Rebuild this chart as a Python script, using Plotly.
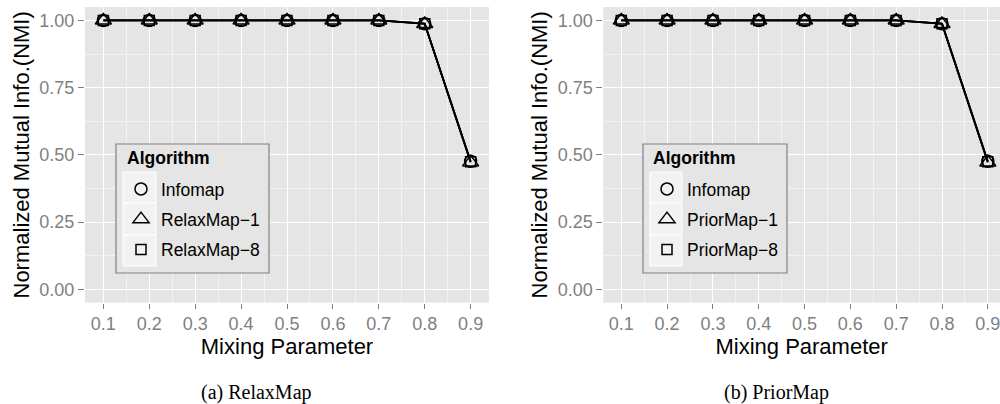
import plotly.graph_objects as go

# Mixing parameter values (x axis)
mixing = [0.1, 0.2, 0.3, 0.4, 0.5, 0.6, 0.7, 0.8, 0.9]

# NMI per algorithm, panel (a)
infomap_a = [1.0, 1.0, 1.0, 1.0, 1.0, 1.0, 1.0, 0.988, 0.476]
relaxmap1 = [1.0, 1.0, 1.0, 1.0, 1.0, 1.0, 1.0, 0.987, 0.472]
relaxmap8 = [1.0, 1.0, 1.0, 1.0, 1.0, 1.0, 1.0, 0.988, 0.474]

# NMI per algorithm, panel (b)
infomap_b = [1.0, 1.0, 1.0, 1.0, 1.0, 1.0, 1.0, 0.988, 0.476]
priormap1 = [1.0, 1.0, 1.0, 1.0, 1.0, 1.0, 1.0, 0.987, 0.472]
priormap8 = [1.0, 1.0, 1.0, 1.0, 1.0, 1.0, 1.0, 0.988, 0.474]

# (legend name, values, marker symbol, marker size)
panel_a = [("Infomap", infomap_a, "circle-open", 12),
           ("RelaxMap\u22121", relaxmap1, "triangle-up-open", 14),
           ("RelaxMap\u22128", relaxmap8, "square-open", 10)]
panel_b = [("Infomap", infomap_b, "circle-open", 12),
           ("PriorMap\u22121", priormap1, "triangle-up-open", 14),
           ("PriorMap\u22128", priormap8, "square-open", 10)]

W, H = 1000, 404
SANS = "Liberation Sans, Arial, Helvetica, sans-serif"
SERIF = "Liberation Serif, Times New Roman, serif"
GREY = "#7f7f7f"


def px(x):
    return x / W


def py(y):
    return 1 - y / H


fig = go.Figure()

for axis_idx, (series, legend_id) in enumerate([(panel_a, "legend"), (panel_b, "legend2")], start=1):
    xa = "x" if axis_idx == 1 else "x2"
    ya = "y" if axis_idx == 1 else "y2"
    for k, (name, vals, sym, size) in enumerate(series):
        fig.add_trace(go.Scatter(
            x=mixing, y=vals, mode="lines", xaxis=xa, yaxis=ya,
            line=dict(color="black", width=1.8), showlegend=False, hoverinfo="skip"))
    for k, (name, vals, sym, size) in enumerate(series):
        fig.add_trace(go.Scatter(
            x=mixing, y=vals, mode="markers", name=name, xaxis=xa, yaxis=ya,
            legend=legend_id, legendgroup=f"{legend_id}-{k}",
            marker=dict(symbol=sym, size=size, color="black",
                        line=dict(color="black", width=1.5))))

common_x = dict(
    tickmode="linear", tick0=0.1, dtick=0.1, tickformat=".1f",
    showline=False, zeroline=False, ticklabeloverflow="allow",
    ticks="outside", ticklen=5, tickwidth=1, tickcolor=GREY,
    tickfont=dict(family=SANS, size=18, color=GREY),
    showgrid=True, gridcolor="white", gridwidth=1.4,
    minor=dict(tickmode="linear", tick0=0.05, dtick=0.1, showgrid=True,
               gridcolor="#f2f2f2", gridwidth=0.7, ticks=""),
    title=dict(text="Mixing Parameter", font=dict(family=SANS, size=22, color="black"), standoff=1),
)
common_y = dict(
    tickmode="linear", tick0=0, dtick=0.25, tickformat=".2f",
    range=[-0.05, 1.05], domain=[py(302.7), py(7)],
    showline=False, zeroline=False,
    ticks="outside", ticklen=6, tickwidth=1, tickcolor=GREY,
    tickfont=dict(family=SANS, size=18, color=GREY),
    showgrid=True, gridcolor="white", gridwidth=1.4,
    minor=dict(tickmode="linear", tick0=0.125, dtick=0.25, showgrid=True,
               gridcolor="#f2f2f2", gridwidth=0.7, ticks=""),
    title=dict(text="Normalized Mutual Info.(NMI)", font=dict(family=SANS, size=22, color="black"), standoff=3),
)

fig.update_layout(
    width=W, height=H, margin=dict(l=0, r=0, t=0, b=0),
    paper_bgcolor="white", plot_bgcolor="#e5e5e5",
    xaxis=dict(common_x, domain=[px(85), px(489)], range=[0.06, 0.94], anchor="y"),
    yaxis=dict(common_y, anchor="x"),
    xaxis2=dict(common_x, domain=[px(603.3), 1.0], range=[0.0607, 0.9266], anchor="y2"),
    yaxis2=dict(common_y, anchor="x2"),
    showlegend=True,
)

legend_common = dict(
    bgcolor="rgba(0,0,0,0)", borderwidth=0, traceorder="grouped", tracegroupgap=4.5,
    font=dict(family=SANS, size=17.5, color="black"),
    xanchor="left", yanchor="top",
)
fig.update_layout(
    legend=dict(legend_common, x=px(121), y=py(171)),
    legend2=dict(legend_common, x=px(647), y=py(171)),
)

# legend frames, key backgrounds and titles
shapes = []
for (bx0, bx1, kx0, kx1, tx) in [(116, 269, 123, 156, 125), (643, 787, 650, 682, 651)]:
    shapes.append(dict(type="rect", xref="paper", yref="paper", layer="above",
                       x0=px(bx0), x1=px(bx1), y0=py(273), y1=py(144),
                       fillcolor="#e5e5e5", line=dict(color="#808080", width=1.2)))
    for (ky0, ky1) in [(172, 203), (203, 235), (235, 266)]:
        shapes.append(dict(type="rect", xref="paper", yref="paper", layer="above",
                           x0=px(kx0), x1=px(kx1), y0=py(ky1), y1=py(ky0),
                           fillcolor="#f2f2f2", line=dict(color="white", width=1)))
    fig.add_annotation(text="<b>Algorithm</b>", x=px(tx), y=py(158), xref="paper", yref="paper",
                       xanchor="left", yanchor="middle", showarrow=False,
                       font=dict(family=SANS, size=17.5, color="black"))
fig.update_layout(shapes=shapes)

# panel captions
for text, cx in [("(a) RelaxMap", 256), ("(b) PriorMap", 776)]:
    fig.add_annotation(text=text, x=px(cx), y=py(392), xref="paper", yref="paper",
                       xanchor="center", yanchor="middle", showarrow=False,
                       font=dict(family=SERIF, size=20, color="black"))

fig.write_html("out.html")
